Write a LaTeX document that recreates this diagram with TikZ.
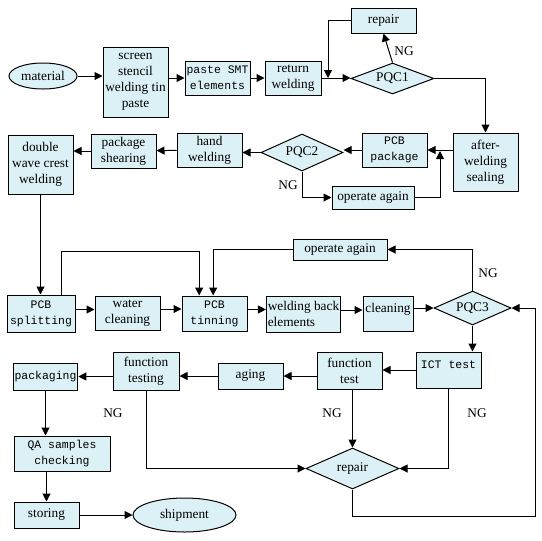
\documentclass[tikz,border=0pt]{standalone}
\usepackage{fontspec}
\setmainfont{Liberation Serif}
\setmonofont{Liberation Mono}
\usetikzlibrary{arrows.meta,positioning,shapes.geometric,calc}
\definecolor{flowcyan}{HTML}{DCF1F5}
\tikzset{
  box/.style={draw=black, line width=0.75pt, fill=flowcyan, align=center, inner sep=1pt, font=\fontsize{10}{12}\selectfont},
  monobox/.style={box, font=\fontsize{8.6}{12}\ttfamily},
  check/.style={diamond, draw=black, line width=0.75pt, fill=flowcyan, inner sep=0pt, shape aspect=2.6, font=\fontsize{10}{12}\selectfont},
  oval/.style={ellipse, draw=black, line width=0.75pt, fill=flowcyan, inner sep=0pt, font=\fontsize{10}{12}\selectfont},
  ng/.style={font=\fontsize{10}{12}\selectfont, inner sep=0pt},
  arrow/.style={-{Triangle[length=6pt,width=6pt]}, line width=0.75pt, draw=black}
}

\begin{document}
\begin{tikzpicture}[x=0.75pt, y=-0.75pt]
  \useasboundingbox (0,0) rectangle (542,540);

  % first row
  \node[oval, minimum width=51pt, minimum height=19.5pt] (material) at (43,76) {material};
  \node[box, minimum width=48.75pt, minimum height=52.5pt] (stencil) at (135.5,82) {screen\\stencil\\welding tin\\paste};
  \node[monobox, minimum width=48.75pt, minimum height=25.5pt] (smt) at (217.5,78) {paste SMT\\elements};
  \node[box, minimum width=42pt, minimum height=25.5pt] (retweld) at (293,78) {return\\welding};
  \node[check, minimum width=62.25pt, minimum height=23.25pt] (pqc1) at (392.5,78.5) {PQC1};
  \node[box, minimum width=48.75pt, minimum height=18.75pt] (repairA) at (383.5,20.5) {repair};

  % second row
  \node[box, minimum width=48.75pt, minimum height=43.5pt] (sealing) at (485.5,162) {after-\\welding\\sealing};
  \node[monobox, minimum width=48.75pt, minimum height=25.5pt] (pcbpack) at (394.5,150) {PCB\\package};
  \node[check, minimum width=61.5pt, minimum height=27.75pt] (pqc2) at (302,152.5) {PQC2};
  \node[box, minimum width=61.5pt, minimum height=17.25pt] (againA) at (373,197.5) {operate again};
  \node[box, minimum width=48.75pt, minimum height=25.5pt] (handweld) at (209.5,150) {hand\\welding};
  \node[box, minimum width=48.75pt, minimum height=25.5pt] (shearing) at (123.5,151) {package\\shearing};
  \node[box, minimum width=48.75pt, minimum height=44.25pt] (dwave) at (40.5,164.5) {double\\wave crest\\welding};

  % third row
  \node[monobox, minimum width=51pt, minimum height=27.75pt] (split) at (41,313.5) {PCB\\splitting};
  \node[box, minimum width=48.75pt, minimum height=25.5pt] (water) at (127.5,313) {water\\cleaning};
  \node[monobox, minimum width=48.75pt, minimum height=26.25pt] (tinning) at (214.5,313.5) {PCB\\tinning};
  \node[box, minimum width=54.75pt, minimum height=27pt, align=left] (wback) at (303.5,314) {welding back\\elements};
  \node[box, minimum width=37.5pt, minimum height=26.25pt, text depth=9pt] (cleaning) at (388,313.5) {cleaning};
  \node[check, minimum width=57.75pt, minimum height=25.5pt] (pqc3) at (472.5,308) {PQC3};
  \node[box, minimum width=70.5pt, minimum height=15.75pt] (againB) at (340,249.5) {operate again};

  % fourth row
  \node[monobox, minimum width=48.75pt, minimum height=27pt, text depth=8pt] (ict) at (448.5,370) {ICT test};
  \node[box, minimum width=48.75pt, minimum height=27.75pt] (ftest) at (349.5,370.5) {function\\test};
  \node[box, minimum width=48.75pt, minimum height=19.5pt] (aging) at (250.5,376) {aging};
  \node[box, minimum width=49.5pt, minimum height=28.5pt] (ftesting) at (146,371) {function\\testing};
  \node[monobox, minimum width=47.25pt, minimum height=20.25pt] (packaging) at (45.5,376.5) {packaging};
  \node[check, minimum width=69.75pt, minimum height=30.75pt] (repairB) at (352.5,468.5) {repair};
  \node[monobox, minimum width=72pt, minimum height=26.25pt] (qa) at (62,453.5) {QA samples\\checking};
  \node[box, minimum width=48.75pt, minimum height=19.5pt] (storing) at (46.5,515) {storing};
  \node[oval, minimum width=77.25pt, minimum height=25.5pt] (shipment) at (184.5,515) {shipment};

  % NG labels
  \node[ng] (ng1) at (404,51) {NG};
  \node[ng] (ng2) at (288,185) {NG};
  \node[ng] (ng3) at (488,273) {NG};
  \node[ng] (ng4) at (113,413) {NG};
  \node[ng] (ng5) at (332,413) {NG};
  \node[ng] (ng6) at (477,413) {NG};

  \coordinate (joinA) at (328,78);
  \coordinate (joinB) at (440,151);
  \coordinate (loopR) at (535,516);

  \draw[arrow] (material.east) -- (material.east -| stencil.west);
  \draw[arrow] (smt.west -| stencil.east) -- (smt.west);
  \draw[arrow] (smt) -- (retweld);
  \draw[arrow] (retweld.east) -- (retweld.east -| pqc1.west);
  \draw[arrow] (pqc1.north) -- (repairA.south);
  \draw[arrow] (repairA.west) -| (joinA);
  \draw[arrow] (pqc1.east) -| (sealing.north);
  \draw[arrow] (sealing.west |- pcbpack) -- (pcbpack.east);
  \draw[arrow] (pcbpack.west) -- (pcbpack.west -| pqc2.east);
  \draw[arrow] (pqc2.south) |- (againA.west);
  \draw[arrow] (againA.east) -| (joinB);
  \draw[arrow] (pqc2.west) -- (pqc2.west -| handweld.east);
  \draw[arrow] (handweld) -- (shearing);
  \draw[arrow] (shearing.west) -- (shearing.west -| dwave.east);
  \draw[arrow] (dwave.south) -- (dwave.south |- split.north);
  \draw[arrow] ([xshift=15pt]split.north) -- ++(0,-43) -| ([xshift=-11.5pt]tinning.north);
  \draw[arrow] (againB.west) -| ([xshift=-1pt]tinning.north);
  \draw[arrow] ([yshift=3pt]split.east) -- ([yshift=3pt]split.east -| water.west);
  \draw[arrow] ([yshift=3pt]water.east) -- ([yshift=3pt]water.east -| tinning.west);
  \draw[arrow] ([yshift=3pt]tinning.east) -- ([yshift=3pt]tinning.east -| wback.west);
  \draw[arrow] ([yshift=3pt]wback.east) -- ([yshift=3pt]wback.east -| cleaning.west);
  \draw[arrow] (cleaning.east |- pqc3.west) -- (pqc3.west);
  \draw[arrow] (pqc3.north) |- (againB.east);
  \draw[arrow] (pqc3.south) -- (pqc3.south |- ict.north);
  \draw[arrow] (ict.west) -- (ict.west -| ftest.east);
  \draw[arrow] (ftest.west |- aging.east) -- (aging.east);
  \draw[arrow] (aging.west) -- (aging.west -| ftesting.east);
  \draw[arrow] (ftesting.west |- packaging.east) -- (packaging.east);
  \draw[arrow] (repairB.north |- ftest.south) -- (repairB.north);
  \draw[arrow] (ict.south) |- (repairB.east);
  \draw[arrow] (ftesting.south) |- (repairB.west);
  \draw[arrow] (repairB.south) |- (loopR) |- (pqc3.east);
  \draw[arrow] (packaging.south) -- (packaging.south |- qa.north);
  \draw[arrow] (storing.north |- qa.south) -- (storing.north);
  \draw[arrow] (storing.east) -- (storing.east -| shipment.west);
\end{tikzpicture}
\end{document}
